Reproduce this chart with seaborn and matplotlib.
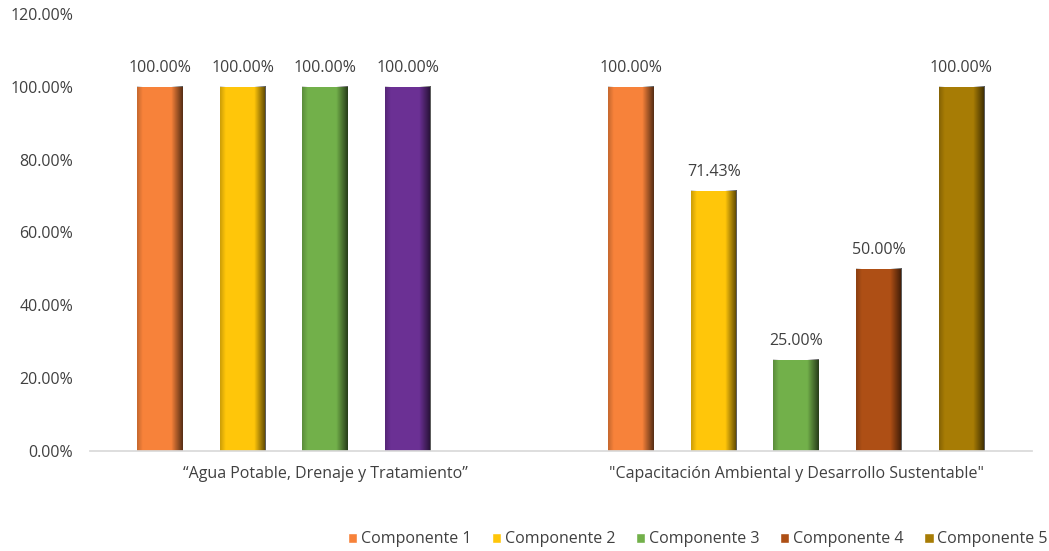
import matplotlib
matplotlib.use("Agg")
import matplotlib.pyplot as plt
import seaborn as sns
import pandas as pd
import numpy as np
from matplotlib.patches import Patch

categories = ["\u201cAgua Potable, Drenaje y Tratamiento\u201d",
              "\"Capacitaci\u00f3n Ambiental y Desarrollo Sustentable\""]
components = ["Componente 1", "Componente 2", "Componente 3", "Componente 4", "Componente 5"]
values_agua = [100.0, 100.0, 100.0, 100.0, np.nan]
values_capac = [100.0, 71.43, 25.0, 50.0, 100.0]

colors = ["#F7823A", "#FFC60A", "#72B04A", "#AE4F15", "#A77C05"]
purple = "#6B3094"

rows = []
for comp, v1, v2 in zip(components, values_agua, values_capac):
    rows.append({"cat": categories[0], "comp": comp, "val": v1})
    rows.append({"cat": categories[1], "comp": comp, "val": v2})
df = pd.DataFrame(rows)

sns.set_theme(style="white")
plt.rcParams["font.family"] = ["Open Sans", "DejaVu Sans"]

fig = plt.figure(figsize=(10.49, 5.51), dpi=100)
ax = fig.add_axes([0.0855, 0.1815, 0.898, 0.7935])

sns.barplot(data=df, x="cat", y="val", hue="comp", order=categories,
            hue_order=components, palette=colors, width=0.876, gap=0.45,
            ax=ax, legend=False, saturation=1, edgecolor="none")

ax.set_ylim(0, 120)
ax.set_xlim(-0.5, 1.5)

# bevel-like shading: horizontal profile, darker at edges
prof = np.linspace(0, 1, 64)
alpha = np.where(prof > 0.75, (prof - 0.75) / 0.25 * 0.65, 0.0) + np.where(prof < 0.12, (0.12 - prof) / 0.12 * 0.2, 0.0)
shade = np.zeros((1, 64, 4))
shade[..., 3] = alpha

for container, comp in zip(ax.containers, components):
    for cat_i, bar in enumerate(container.patches):
        h = bar.get_height()
        if comp == "Componente 4" and cat_i == 0:
            bar.set_facecolor(purple)
        if np.isnan(h):
            continue
        x0 = bar.get_x()
        w = bar.get_width()
        ax.imshow(shade, extent=(x0, x0 + w, 0, h), aspect="auto",
                  interpolation="bilinear", zorder=bar.get_zorder() + 0.1)
        ax.annotate(f"{h:.2f}%", (x0 + w / 2, h),
                    xytext=(0, 8), textcoords="offset points",
                    ha="center", va="bottom", fontsize=11.5, color="#404040")

ax.set_ylim(0, 120)
ax.set_xlim(-0.5, 1.5)
ax.set_yticks(np.arange(0, 121, 20))
ax.set_yticklabels([f"{t:.2f}%" for t in np.arange(0, 121, 20)], fontsize=11.5, color="#404040")
ax.tick_params(axis="x", labelsize=11.5, colors="#404040", length=0, pad=11)
ax.tick_params(axis="y", length=0, pad=12)
ax.set_xlabel("")
ax.set_ylabel("")
for s in ["top", "right", "left"]:
    ax.spines[s].set_visible(False)
ax.spines["bottom"].set_color("#D9D9D9")
ax.grid(False)

handles = [Patch(facecolor=c, label=l) for c, l in zip(colors, components)]
fig.legend(handles=handles, loc="center right", bbox_to_anchor=(1.012, 0.021),
           ncol=5, frameon=False, fontsize=11.5, handlelength=0.6, handleheight=0.6,
           handletextpad=0.2, columnspacing=1.3, labelcolor="#404040")

fig.savefig("out.png", dpi=100)
